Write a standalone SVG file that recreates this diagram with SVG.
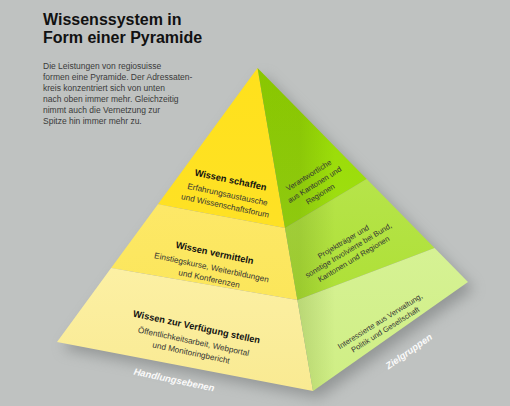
<svg xmlns="http://www.w3.org/2000/svg" width="510" height="406" viewBox="0 0 510 406">
  <defs>
    <filter id="blur" x="-20%" y="-20%" width="140%" height="140%">
      <feGaussianBlur stdDeviation="7"/>
    </filter>
    <linearGradient id="gY1" x1="0" y1="0" x2="0" y2="1">
      <stop offset="0" stop-color="#ffe11c"/>
      <stop offset="1" stop-color="#fee125"/>
    </linearGradient>
    <linearGradient id="gY2" x1="0" y1="0" x2="0" y2="1">
      <stop offset="0" stop-color="#fde868"/>
      <stop offset="1" stop-color="#fbe65a"/>
    </linearGradient>
    <linearGradient id="gY3" x1="0" y1="0" x2="0" y2="1">
      <stop offset="0" stop-color="#fcf0a4"/>
      <stop offset="1" stop-color="#f9ea92"/>
    </linearGradient>
    <linearGradient id="gG1" x1="0" y1="0" x2="0" y2="1">
      <stop offset="0" stop-color="#98dc00"/>
      <stop offset="1" stop-color="#9fde12"/>
    </linearGradient>
    <linearGradient id="gG2" x1="0" y1="0" x2="0" y2="1">
      <stop offset="0" stop-color="#b6e44a"/>
      <stop offset="1" stop-color="#aee036"/>
    </linearGradient>
    <linearGradient id="gG3" x1="0" y1="0" x2="0" y2="1">
      <stop offset="0" stop-color="#d6f294"/>
      <stop offset="1" stop-color="#cfee84"/>
    </linearGradient>
    <linearGradient id="gEdge" gradientUnits="userSpaceOnUse" x1="300" y1="0" x2="335" y2="0">
      <stop offset="0" stop-color="#3a5a00" stop-opacity="0.16"/>
      <stop offset="1" stop-color="#3a5a00" stop-opacity="0"/>
    </linearGradient>
    <style>
      .title { font-family: "Liberation Sans", Arial, sans-serif; font-weight: bold; font-size: 16px; fill: #111; }
      .body { font-family: "Liberation Sans", Arial, sans-serif; font-size: 8.5px; fill: #3a3a3a; }
      .hd { font-family: "Liberation Sans", Arial, sans-serif; font-weight: bold; font-size: 9.3px; fill: #111; text-anchor: middle; }
      .tx { font-family: "Liberation Sans", Arial, sans-serif; font-size: 8.2px; fill: #333; text-anchor: middle; }
      .rt { font-family: "Liberation Sans", Arial, sans-serif; font-size: 7.6px; fill: #333; text-anchor: middle; }
      .axis { font-family: "Liberation Sans", Arial, sans-serif; font-weight: bold; font-style: italic; font-size: 9.5px; fill: #fafafa; text-anchor: middle; }
    </style>
  </defs>

  <rect x="0" y="0" width="510" height="406" fill="#bfc2c1"/>

  <!-- title and intro -->
  <g id="title">
    <text class="title" x="43" y="25">Wissenssystem in</text>
    <text class="title" x="43" y="42.5">Form einer Pyramide</text>
  </g>
  <g id="intro">
    <text class="body" x="43" y="69">Die Leistungen von regiosuisse</text>
    <text class="body" x="43" y="80">formen eine Pyramide. Der Adressaten-</text>
    <text class="body" x="43" y="91">kreis konzentriert sich von unten</text>
    <text class="body" x="43" y="102">nach oben immer mehr. Gleichzeitig</text>
    <text class="body" x="43" y="113">nimmt auch die Vernetzung zur</text>
    <text class="body" x="43" y="124">Spitze hin immer mehr zu.</text>
  </g>

  <!-- pyramid -->
  <g id="pyramid">
    <polygon points="57,342 257.5,68 468,282 313,391" transform="translate(6,7)" fill="#6f7373" opacity="0.55" filter="url(#blur)"/>
    <!-- left face -->
    <polygon id="left-top" points="257.5,68 285,228 157.9,204.2" fill="url(#gY1)"/>
    <polygon id="left-mid" points="157.9,204.2 285,228 297.4,300 111.1,268" fill="url(#gY2)"/>
    <polygon id="left-bottom" points="111.1,268 297.4,300 313,391 57,342" fill="url(#gY3)"/>
    <!-- right face -->
    <polygon id="right-top" points="257.5,68 366.7,179 285,228" fill="url(#gG1)"/>
    <polygon id="right-mid" points="285,228 366.7,179 434.6,248 297.4,300" fill="url(#gG2)"/>
    <polygon id="right-bottom" points="297.4,300 434.6,248 468,282 313,391" fill="url(#gG3)"/>
    <polygon points="257.5,68 468,282 313,391" fill="url(#gEdge)"/>
  </g>

  <!-- levels (left face) -->
  <g id="level-schaffen" transform="translate(230,183) rotate(12)">
    <text class="hd" x="0" y="0">Wissen schaffen</text>
    <text class="tx" x="0" y="14.5">Erfahrungsaustausche</text>
    <text class="tx" x="0" y="26">und Wissenschaftsforum</text>
  </g>
  <g id="level-vermitteln" transform="translate(214,256) rotate(12)">
    <text class="hd" x="0" y="0">Wissen vermitteln</text>
    <text class="tx" x="0" y="14.5">Einstiegskurse, Weiterbildungen</text>
    <text class="tx" x="0" y="26">und Konferenzen</text>
  </g>
  <g id="level-verfuegung" transform="translate(196,330) rotate(12)">
    <text class="hd" x="0" y="0">Wissen zur Verfügung stellen</text>
    <text class="tx" x="0" y="14.5">Öffentlichkeitsarbeit, Webportal</text>
    <text class="tx" x="0" y="26">und Monitoringbericht</text>
  </g>

  <!-- target groups (right face) -->
  <g id="target-top" transform="translate(310,177.6) rotate(-32)">
    <text class="rt" x="0" y="0">Verantwortliche</text>
    <text class="rt" x="0" y="11">aus Kantonen und</text>
    <text class="rt" x="0" y="22">Regionen</text>
  </g>
  <g id="target-mid" transform="translate(344.7,244) rotate(-31)">
    <text class="rt" x="0" y="0">Projektträger und</text>
    <text class="rt" x="0" y="10">sonstige Involvierte bei Bund,</text>
    <text class="rt" x="0" y="20">Kantonen und Regionen</text>
  </g>
  <g id="target-bottom" transform="translate(381.4,323.3) rotate(-32)">
    <text class="rt" x="0" y="0">Interessierte aus Verwaltung,</text>
    <text class="rt" x="0" y="10">Politik und Gesellschaft</text>
  </g>

  <!-- axis labels -->
  <g id="axis-labels">
    <text class="axis" transform="translate(173.4,383) rotate(12)">Handlungsebenen</text>
    <text class="axis" transform="translate(410.7,354) rotate(-35)">Zielgruppen</text>
  </g>

  <g id="connectors"/>
</svg>
